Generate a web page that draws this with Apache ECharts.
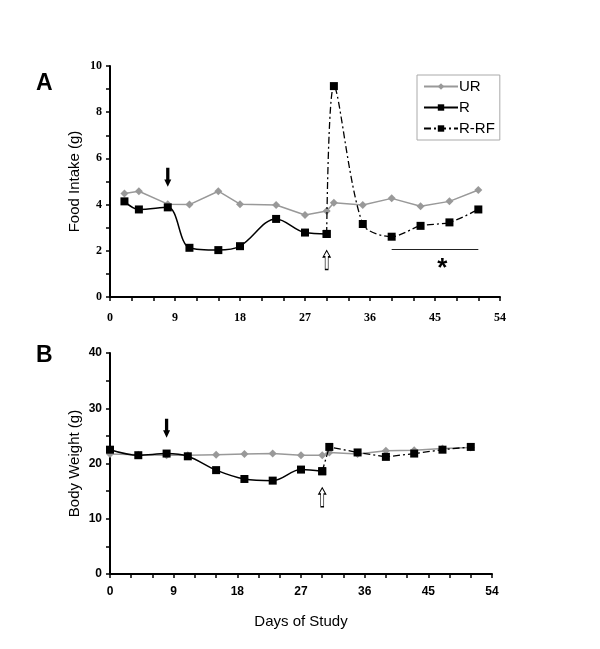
<!DOCTYPE html>
<html><head><meta charset="utf-8">
<script src="https://cdn.jsdelivr.net/npm/echarts@6/dist/echarts.min.js"></script>
<style>html,body{margin:0;padding:0;background:#fff}#c{width:600px;height:649px}</style>
</head><body><div id="c"></div>
<script>
// Panel A: Food intake (g)
const daysA_UR = [2, 4, 8, 11, 15, 18, 23, 27, 30, 31, 35, 39, 43, 47, 51];
const foodUR   = [4.48, 4.58, 4.02, 4.0, 4.58, 4.02, 3.98, 3.55, 3.72, 4.08, 3.98, 4.27, 3.93, 4.14, 4.63];
const daysA_R  = [2, 4, 8, 11, 15, 18, 23, 27, 30];
const foodR    = [4.14, 3.79, 3.88, 2.13, 2.03, 2.2, 3.38, 2.79, 2.73];
const daysA_RF = [30, 31, 35, 39, 43, 47, 51];
const foodRF   = [2.73, 9.13, 3.16, 2.61, 3.08, 3.23, 3.79];
// Panel B: Body weight (g)
const daysB_UR = [0, 4, 8, 11, 15, 19, 23, 27, 30, 31, 35, 39, 43, 47, 51];
const bwUR     = [21.7, 21.6, 21.5, 21.5, 21.6, 21.7, 21.8, 21.5, 21.5, 22.0, 21.7, 22.3, 22.4, 22.7, 22.9];
const daysB_R  = [0, 4, 8, 11, 15, 19, 23, 27, 30];
const bwR      = [22.5, 21.5, 21.8, 21.3, 18.8, 17.2, 16.9, 18.9, 18.6];
const daysB_RF = [30, 31, 35, 39, 43, 47, 51];
const bwRF     = [18.6, 23.0, 22.0, 21.2, 21.8, 22.5, 23.0];
// tick labels
const xTicks = [0, 9, 18, 27, 36, 45, 54];
const yTicksA = [0, 2, 4, 6, 8, 10];
const yTicksB = [0, 10, 20, 30, 40];
// annotations (data units)
const arrowDownA = [8, 5.18], arrowUpA = [30, 1.6];
const arrowDownB = [8, 26.4], arrowUpB = [30, 13.9];
const sigLine = [[39, 2.08], [51, 2.08]], sigStar = [46, 1.45];

const zip = (xs, ys) => xs.map((x, i) => [x, ys[i]]);
const downPath = 'path://M1.6,0 L4.4,0 L4.4,11 L6,11 L3,18 L0,11 L1.6,11 Z';
const upPath = 'path://M3,0 L6,6 L4.3,6 L4.3,18 L1.7,18 L1.7,6 L0,6 Z';
const downMark = c => ({coord: c, symbol: downPath, symbolSize: [7, 19], itemStyle: {color: '#000'}, label: {show: false}});
const upMark = c => ({coord: c, symbol: upPath, symbolSize: [7, 19], itemStyle: {color: '#fff', borderColor: '#000', borderWidth: 1}, label: {show: false}});

const gray = '#999999';
function xAxisCfg(idx, serif, withName) {
  return {
    type: 'value', gridIndex: idx, min: 0, max: 54, interval: 3,
    axisLine: {lineStyle: {color: '#000', width: 2}},
    axisTick: {show: true, length: 4, lineStyle: {color: '#000', width: 1.5}},
    splitLine: {show: false},
    axisLabel: {
      formatter: v => xTicks.includes(v) ? String(v) : '',
      color: '#000', fontWeight: 'bold', margin: serif ? 15 : 12,
      fontFamily: serif ? 'Liberation Serif' : 'Liberation Sans', fontSize: 12
    },
    name: withName ? 'Days of Study' : '', nameLocation: 'middle', nameGap: 40,
    nameMoveOverlap: false,
    nameTextStyle: {fontFamily: 'Liberation Sans', fontSize: 15, color: '#000'}
  };
}
function yAxisCfg(idx, max, interval, labels, serif, name) {
  return {
    type: 'value', gridIndex: idx, min: 0, max: max, interval: interval,
    axisLine: {show: true, lineStyle: {color: '#000', width: 2}},
    axisTick: {show: true, length: 4, lineStyle: {color: '#000', width: 1.5}},
    splitLine: {show: false},
    axisLabel: {
      formatter: v => labels.includes(v) ? String(v) : '',
      color: '#000', fontWeight: 'bold', margin: 8,
      fontFamily: serif ? 'Liberation Serif' : 'Liberation Sans', fontSize: 12
    },
    name: name, nameLocation: 'middle', nameGap: 28, nameRotate: 90,
    nameMoveOverlap: false,
    nameTextStyle: {fontFamily: 'Liberation Sans', fontSize: 15, color: '#000'}
  };
}
function urSeries(idx, data) {
  return {name: 'UR', type: 'line', xAxisIndex: idx, yAxisIndex: idx, data: data,
    symbol: 'diamond', symbolSize: 8, itemStyle: {color: gray}, lineStyle: {color: gray, width: 1.5},
    z: 2, animation: false};
}
function rSeries(idx, data, marks) {
  return {name: 'R', type: 'line', xAxisIndex: idx, yAxisIndex: idx, data: data, smooth: 0.35,
    symbol: 'rect', symbolSize: 8, itemStyle: {color: '#000'}, lineStyle: {color: '#000', width: 1.5},
    z: 3, animation: false,
    markPoint: {silent: true, animation: false, data: marks}};
}
function rfSeries(idx, data, extra) {
  const s = {name: 'R-RF', type: 'line', xAxisIndex: idx, yAxisIndex: idx, data: data, smooth: 0.3,
    symbol: 'rect', symbolSize: 8, itemStyle: {color: '#000'},
    lineStyle: {color: '#000', width: 1.3, type: [7, 3, 2, 3]},
    z: 3, animation: false};
  return Object.assign(s, extra || {});
}

const chart = echarts.init(document.getElementById('c'), null, {renderer: 'canvas'});
chart.setOption({
  animation: false,
  backgroundColor: '#fff',
  grid: [
    {left: 110, top: 66, width: 390, height: 231},
    {left: 110, top: 353, width: 382, height: 221}
  ],
  xAxis: [xAxisCfg(0, true, false), xAxisCfg(1, false, true)],
  yAxis: [yAxisCfg(0, 10, 1, yTicksA, true, 'Food Intake (g)'), yAxisCfg(1, 40, 5, yTicksB, false, 'Body Weight (g)')],
  legend: {
    show: true, orient: 'vertical', left: 417, top: 75,
    data: ['UR', 'R', 'R-RF'],
    itemWidth: 34, itemHeight: 8, itemGap: 6,
    backgroundColor: '#fff', borderColor: '#aaa', borderWidth: 1,
    padding: [4, 5, 4, 6],
    textStyle: {fontFamily: 'Liberation Sans', fontSize: 15, color: '#000', padding: [0, 0, 0, -4]}
  },
  graphic: [
    {type: 'text', left: 36, top: 72, style: {text: 'A', font: 'bold 23px "Liberation Sans"', fill: '#000'}},
    {type: 'text', left: 36, top: 344, style: {text: 'B', font: 'bold 23px "Liberation Sans"', fill: '#000'}}
  ],
  series: [
    urSeries(0, zip(daysA_UR, foodUR)),
    rSeries(0, zip(daysA_R, foodR), [downMark(arrowDownA), upMark(arrowUpA)]),
    rfSeries(0, zip(daysA_RF, foodRF), {
      markLine: {silent: true, animation: false, symbol: 'none', label: {show: false},
        lineStyle: {color: '#222', width: 1, type: 'solid'},
        data: [[{coord: sigLine[0]}, {coord: sigLine[1]}]]},
      markPoint: {silent: true, animation: false, data: [{coord: sigStar, symbol: 'circle', symbolSize: 0,
        label: {show: true, formatter: '*', fontSize: 26, fontWeight: 'bold', color: '#000', fontFamily: 'Liberation Sans', position: 'inside', offset: [0, 5]}}]}
    }),
    urSeries(1, zip(daysB_UR, bwUR)),
    rSeries(1, zip(daysB_R, bwR), [downMark(arrowDownB), upMark(arrowUpB)]),
    rfSeries(1, zip(daysB_RF, bwRF), {smooth: 0})
  ]
});
</script></body></html>
